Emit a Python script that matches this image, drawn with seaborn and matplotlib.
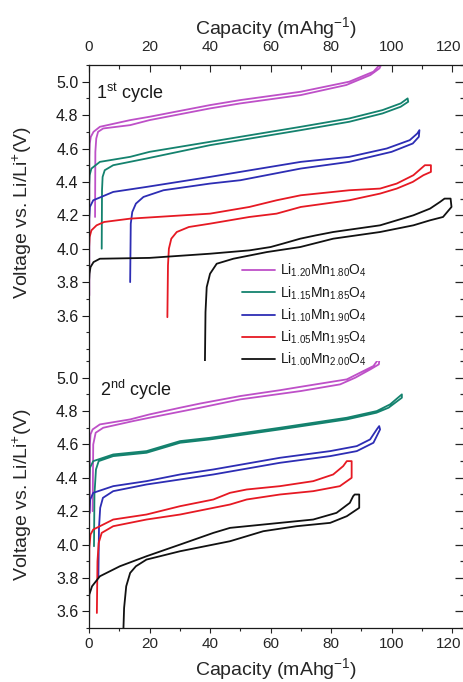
import matplotlib
matplotlib.use("Agg")
import matplotlib.pyplot as plt
from matplotlib.ticker import MultipleLocator, FormatStrFormatter
from matplotlib.transforms import ScaledTranslation
import pandas as pd
import seaborn as sns

# ---------------- data ----------------
samples = [r"Li$_{1.20}$Mn$_{1.80}$O$_4$", r"Li$_{1.15}$Mn$_{1.85}$O$_4$",
           r"Li$_{1.10}$Mn$_{1.90}$O$_4$", r"Li$_{1.05}$Mn$_{1.95}$O$_4$",
           r"Li$_{1.00}$Mn$_{2.00}$O$_4$"]
colors = ["#BE50C8", "#14826E", "#2D2DB4", "#E61923", "#111111"]

# 1st cycle: (capacity mAh/g, voltage V) along charge, then discharge back
cyc1_li120 = [(0.1, 3.72), (0.1, 4.55), (0.25, 4.63), (0.6, 4.67), (1.5, 4.70), (3.6, 4.73),
              (13.6, 4.77), (20, 4.79), (40, 4.86), (50, 4.89), (70, 4.94), (86, 5.00), (94, 5.06),
              (97, 5.12), (96, 5.08), (93, 5.04), (85, 4.98), (70, 4.92), (50, 4.87), (40, 4.84),
              (20, 4.77), (13.6, 4.74), (4.7, 4.72), (3.0, 4.70), (2.4, 4.66), (2.1, 4.58),
              (2.0, 4.19)]
cyc1_li115 = [(0.0, 3.72), (0.05, 4.38), (0.2, 4.44), (0.8, 4.48), (3.6, 4.52), (13.6, 4.55),
              (20, 4.58), (40, 4.64), (50, 4.67), (70, 4.73), (86, 4.78), (97, 4.83), (103, 4.87),
              (105.3, 4.90), (105.5, 4.88), (103, 4.85), (97, 4.81), (86, 4.76), (70, 4.71),
              (50, 4.65), (40, 4.62), (19, 4.54), (8, 4.50), (5.2, 4.47), (4.5, 4.43), (4.3, 4.35),
              (4.2, 4.00)]
cyc1_li110 = [(0.0, 3.90), (0.05, 4.18), (0.3, 4.25), (1.4, 4.29), (8, 4.34), (19, 4.37), (40, 4.43),
              (50, 4.46), (70, 4.52), (86, 4.55), (98.4, 4.60), (106, 4.65), (108.5, 4.69),
              (109.2, 4.71), (109, 4.67), (107, 4.63), (100, 4.58), (86, 4.52), (70, 4.48), (50, 4.41),
              (40, 4.39), (24.6, 4.35), (18, 4.31), (15.5, 4.27), (14.3, 4.22), (13.8, 4.15),
              (13.6, 3.80)]
cyc1_li105 = [(0.0, 3.30), (0.0, 4.00), (0.2, 4.07), (0.8, 4.11), (2.5, 4.14), (5, 4.16), (13.6, 4.18),
              (40, 4.21), (53, 4.25), (62, 4.29), (70, 4.32), (86, 4.35), (96.2, 4.36), (101.7, 4.39),
              (107.2, 4.44), (111, 4.50), (113, 4.50), (113, 4.46), (110.5, 4.44), (107, 4.40),
              (101.7, 4.36), (96.2, 4.33), (86, 4.29), (78, 4.27), (70, 4.25), (62, 4.21), (53, 4.19),
              (40, 4.15), (33, 4.13), (29, 4.10), (27.2, 4.06), (26.4, 4.00), (26.1, 3.90),
              (25.9, 3.59)]
cyc1_li100 = [(0.0, 3.30), (0.0, 3.80), (0.15, 3.85), (0.5, 3.89), (1.5, 3.92), (3.6, 3.94),
              (20, 3.945), (40, 3.97), (53, 3.99), (60, 4.01), (64, 4.03), (69.8, 4.06), (75, 4.08),
              (80.7, 4.10), (96.2, 4.14), (107.2, 4.20), (112.7, 4.24), (116, 4.28), (117.5, 4.30),
              (119.5, 4.30), (119.8, 4.25), (117, 4.19), (112.7, 4.17), (107.2, 4.14), (96.2, 4.10),
              (80.7, 4.06), (69.8, 4.01), (58.8, 3.98), (47.7, 3.94), (42.2, 3.91), (40.0, 3.85),
              (38.9, 3.77), (38.5, 3.62), (38.3, 3.30)]

# 2nd cycle
cyc2_li120 = [(0.3, 4.19), (0.3, 4.60), (0.5, 4.66), (1.2, 4.69), (3.6, 4.72), (13.6, 4.75),
              (20, 4.78), (30.1, 4.82), (36.7, 4.845), (50, 4.89), (63.1, 4.925), (69.8, 4.945),
              (85.2, 4.99), (88.5, 5.02), (94, 5.07), (96, 5.12), (95.8, 5.08), (93, 5.05), (88, 5.00),
              (83, 4.96), (70, 4.92), (50, 4.87), (36.7, 4.82), (20, 4.76), (14.6, 4.74), (4.7, 4.70),
              (2.2, 4.67), (1.4, 4.60), (1.2, 4.20)]
cyc2_li115 = [(0.0, 3.98), (0.05, 4.38), (0.3, 4.46), (1.4, 4.50), (8, 4.54), (19, 4.56), (30.1, 4.62),
              (40, 4.64), (63.1, 4.70), (85.2, 4.76), (95.1, 4.80), (99.5, 4.84), (103.4, 4.90),
              (103.4, 4.88), (99, 4.82), (95, 4.79), (85.2, 4.75), (63.1, 4.69), (40, 4.63),
              (30.1, 4.61), (19, 4.55), (8, 4.53), (3.2, 4.50), (2.3, 4.45), (1.8, 4.30), (1.65, 3.99)]
cyc2_li110 = [(0.0, 3.70), (0.05, 4.18), (0.4, 4.27), (1.4, 4.31), (8, 4.35), (19, 4.38), (30.1, 4.42),
              (41.1, 4.45), (63.1, 4.52), (79.7, 4.56), (88.5, 4.59), (92.9, 4.63), (95.1, 4.69),
              (95.9, 4.71), (96.2, 4.69), (94, 4.61), (88.5, 4.56), (79.7, 4.53), (63.1, 4.49),
              (41.1, 4.42), (30.1, 4.39), (19, 4.36), (8, 4.32), (4.6, 4.28), (3.7, 4.22), (3.3, 4.10),
              (3.1, 3.81)]
cyc2_li105 = [(0.0, 3.55), (0.1, 3.98), (0.5, 4.06), (1.4, 4.09), (8, 4.15), (19, 4.18), (30.1, 4.23),
              (41.1, 4.27), (46.6, 4.31), (52.1, 4.33), (63.1, 4.35), (74.1, 4.38), (80.7, 4.42),
              (84, 4.47), (85.2, 4.50), (86.8, 4.50), (86.8, 4.40), (82.9, 4.35), (74.1, 4.32),
              (63.1, 4.30), (52.1, 4.27), (46.6, 4.24), (41.1, 4.22), (30.1, 4.18), (19, 4.15),
              (8, 4.11), (4.2, 4.07), (3.2, 4.01), (2.8, 3.90), (2.6, 3.59)]
cyc2_li100 = [(0.0, 3.45), (0.1, 3.70), (1, 3.75), (3.6, 3.81), (10.2, 3.87), (19, 3.93), (30.1, 4.00),
              (41.1, 4.07), (46.6, 4.10), (52.1, 4.11), (63.1, 4.13), (74.1, 4.15), (81.8, 4.19),
              (86.2, 4.25), (87.3, 4.29), (87.8, 4.30), (89.3, 4.30), (89.3, 4.22), (85.2, 4.17),
              (79.7, 4.13), (68.6, 4.11), (57.6, 4.08), (52.1, 4.05), (46.6, 4.02), (41.1, 4.00),
              (30.1, 3.96), (19, 3.91), (15.5, 3.87), (13.6, 3.83), (12.3, 3.75), (11.6, 3.62),
              (11.3, 3.45)]

x_ticks = [0, 20, 40, 60, 80, 100, 120]
y_ticks = [3.6, 3.8, 4.0, 4.2, 4.4, 4.6, 4.8, 5.0]
cycle_labels = [r"1$^{\rm st}$ cycle", r"2$^{\rm nd}$ cycle"]
x_label = r"Capacity (mAhg$^{-1}$)"
y_label = r"Voltage vs. Li/Li$^{+}$(V)"

# ---------------- style ----------------
sns.set_style("ticks")
plt.rcParams["font.family"] = ["Liberation Sans", "DejaVu Sans"]
plt.rcParams["mathtext.fontset"] = "custom"
plt.rcParams["mathtext.rm"] = "Liberation Sans"
plt.rcParams["mathtext.it"] = "Liberation Sans:italic"
plt.rcParams["mathtext.bf"] = "Liberation Sans:bold"
plt.rcParams["text.color"] = "#1a1a1a"


def frame(paths):
    rows = []
    for name, pts in zip(samples, paths):
        for i, (c, v) in enumerate(pts):
            rows.append({"cap": c, "volt": v, "sample": name, "i": i})
    return pd.DataFrame(rows)


df1 = frame([cyc1_li120, cyc1_li115, cyc1_li110, cyc1_li105, cyc1_li100])
df2 = frame([cyc2_li120, cyc2_li115, cyc2_li110, cyc2_li105, cyc2_li100])

fig = plt.figure(figsize=(4.63, 6.82), dpi=100)
L, W = 89 / 463, 374 / 463
ax1 = fig.add_axes([L, 1 - 360.6 / 682, W, (360.6 - 65) / 682])
ax2 = fig.add_axes([L, 1 - 628 / 682, W, (628 - 361) / 682])

pal = dict(zip(samples, colors))
for ax, df in ((ax1, df1), (ax2, df2)):
    sns.lineplot(data=df, x="cap", y="volt", hue="sample", hue_order=samples, palette=pal,
                 sort=False, estimator=None, legend=False, lw=1.3, ax=ax)
    for ln in ax.get_lines():
        ln.set_solid_joinstyle("round")
    ax.set_xlim(0, 123.6)
    ax.set_xticks(x_ticks)
    ax.xaxis.set_minor_locator(MultipleLocator(10))
    ax.set_yticks(y_ticks)
    ax.yaxis.set_major_formatter(FormatStrFormatter("%.1f"))
    ax.yaxis.set_minor_locator(MultipleLocator(0.1))
    ax.spines["right"].set_visible(False)
    for s in ax.spines.values():
        s.set_linewidth(0.9)
        s.set_color("#1a1a1a")
    ax.tick_params(axis="y", which="major", direction="out", length=5, width=0.8,
                   labelsize=11.5, pad=2.5, colors="#1a1a1a")
    ax.tick_params(axis="y", which="minor", direction="out", length=2.5, width=0.8)
    ax.set_ylabel(y_label, fontsize=14)
    ax.yaxis.set_label_coords(-0.146, 0.5)
    sec = ax.secondary_yaxis("right")
    sec.spines["right"].set_visible(False)
    sec.set_yticks(y_ticks)
    sec.yaxis.set_minor_locator(MultipleLocator(0.1))
    sec.tick_params(axis="y", which="major", direction="in", length=6, width=0.9, labelright=False)
    sec.tick_params(axis="y", which="minor", direction="in", length=2, width=0.9)

ax1.set_ylim(3.33, 5.1)
ax1.spines["bottom"].set_visible(False)
ax1.xaxis.tick_top()
ax1.xaxis.set_label_position("top")
ax1.tick_params(axis="x", which="major", direction="in", length=5, width=0.8,
                top=True, bottom=False, labeltop=True, labelbottom=False, labelsize=11, pad=8)
ax1.tick_params(axis="x", which="minor", direction="in", length=3, width=0.8, top=True, bottom=False)
ax1.set_xlabel(x_label, fontsize=14, labelpad=4)

ax2.set_ylim(3.5, 5.1)
ax2.spines["top"].set_visible(False)
ax2.tick_params(axis="x", which="major", direction="out", length=3.5, width=0.8,
                labelsize=11, pad=3)
ax2.tick_params(axis="x", which="minor", direction="out", length=2.5, width=0.8)
ax2.set_xlabel(x_label, fontsize=14, labelpad=4)

# nudge the last x tick label ("120") slightly left so it stays inside the figure
shift = ScaledTranslation(-3 / 100, 0, fig.dpi_scale_trans)
for t in ax1.xaxis.get_majorticklabels(which="major") if False else []:
    pass
for tk in ax1.xaxis.get_major_ticks()[-1:]:
    tk.label2.set_transform(tk.label2.get_transform() + shift)
for tk in ax2.xaxis.get_major_ticks()[-1:]:
    tk.label1.set_transform(tk.label1.get_transform() + shift)

ax1.text(0.018, 0.905, cycle_labels[0], transform=ax1.transAxes, fontsize=13, va="center", ha="left")
ax2.text(0.030, 0.891, cycle_labels[1], transform=ax2.transAxes, fontsize=13, va="center", ha="left")

handles = ax1.get_lines()[:len(samples)]
fig.legend(handles, samples, loc="upper left", bbox_to_anchor=(242 / 463, 1 - 262 / 682),
           frameon=False, fontsize=10, handlelength=2.4, handletextpad=0.35,
           labelspacing=0.35, borderpad=0, borderaxespad=0)

fig.savefig("out.png", dpi=100)
